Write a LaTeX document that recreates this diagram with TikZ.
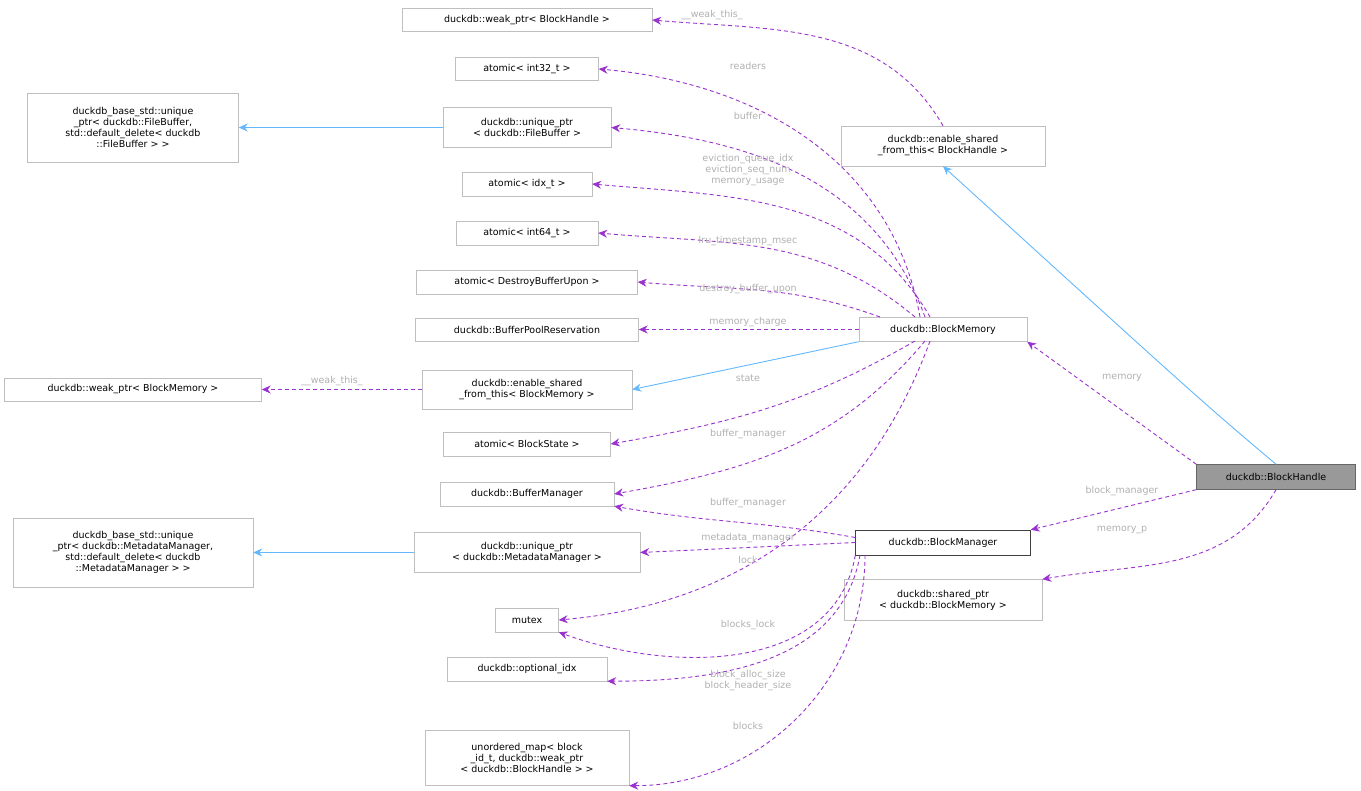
\documentclass[tikz,border=0pt]{standalone}
\usepackage{fontspec}
\setmainfont{DejaVu Sans}
\usetikzlibrary{arrows.meta}
\definecolor{usecol}{HTML}{9A32CD}
\definecolor{inhcol}{HTML}{63B8FF}
\definecolor{lblcol}{HTML}{B0B0B0}
\definecolor{boxcol}{HTML}{BFBFBF}
\tikzset{
  cls/.style={draw=boxcol, fill=white, inner sep=2pt, font=\fontsize{9.5}{11}\selectfont, align=center},
  use/.style={draw=usecol, line width=0.9pt, dash pattern=on 4pt off 3pt, -{Stealth[length=9pt,width=8pt]}},
  inh/.style={draw=inhcol, line width=0.9pt, -{Stealth[length=9pt,width=8pt]}},
  lbl/.style={text=lblcol, font=\fontsize{9.5}{11}\selectfont, align=center, inner sep=0pt}
}
\begin{document}
\begin{tikzpicture}[x=1pt,y=-1pt]
\useasboundingbox (0,0) rectangle (1361,791);
% classes
\node[cls, minimum width=250, minimum height=23] (weakBH) at (527,20) {duckdb::weak\_ptr< BlockHandle >};
\node[cls, minimum width=143, minimum height=23] (int32) at (527,69) {atomic< int32\_t >};
\node[cls, minimum width=168, minimum height=40] (uniqFB) at (527,127.5) {duckdb::unique\_ptr\\< duckdb::FileBuffer >};
\node[cls, minimum width=211, minimum height=69] (baseFB) at (133,127.5) {duckdb\_base\_std::unique\\\_ptr< duckdb::FileBuffer,\\ std::default\_delete< duckdb\\::FileBuffer > >};
\node[cls, minimum width=130, minimum height=24] (idx) at (527,184) {atomic< idx\_t >};
\node[cls, minimum width=142, minimum height=24] (int64) at (527,233) {atomic< int64\_t >};
\node[cls, minimum width=221, minimum height=24] (destroy) at (527,282) {atomic< DestroyBufferUpon >};
\node[cls, minimum width=223, minimum height=23] (bpr) at (527,329.5) {duckdb::BufferPoolReservation};
\node[cls, minimum width=210, minimum height=39] (esfBM) at (527,389.5) {duckdb::enable\_shared\\\_from\_this< BlockMemory >};
\node[cls, minimum width=257, minimum height=23] (weakBM) at (133,389.5) {duckdb::weak\_ptr< BlockMemory >};
\node[cls, minimum width=167, minimum height=24] (state) at (527,444) {atomic< BlockState >};
\node[cls, minimum width=174, minimum height=24] (bufman) at (527,494) {duckdb::BufferManager};
\node[cls, minimum width=226, minimum height=40] (uniqMM) at (527,552.5) {duckdb::unique\_ptr\\< duckdb::MetadataManager >};
\node[cls, minimum width=240, minimum height=69] (baseMM) at (133,552.5) {duckdb\_base\_std::unique\\\_ptr< duckdb::MetadataManager,\\ std::default\_delete< duckdb\\::MetadataManager > >};
\node[cls, minimum width=63, minimum height=24] (mutex) at (527,620) {mutex};
\node[cls, minimum width=160, minimum height=24] (optidx) at (527,669) {duckdb::optional\_idx};
\node[cls, minimum width=204, minimum height=55] (umap) at (527,758) {unordered\_map< block\\\_id\_t, duckdb::weak\_ptr\\< duckdb::BlockHandle > >};
\node[cls, minimum width=204, minimum height=40] (esfBH) at (943,146) {duckdb::enable\_shared\\\_from\_this< BlockHandle >};
\node[cls, minimum width=168, minimum height=24] (blkmem) at (943,329.5) {duckdb::BlockMemory};
\node[cls, draw=black!75, minimum width=175, minimum height=25] (blkmgr) at (943,542.5) {duckdb::BlockManager};
\node[cls, minimum width=198, minimum height=41] (sharedBM) at (943,600) {duckdb::shared\_ptr\\< duckdb::BlockMemory >};
\node[cls, draw=black!60, fill=black!40, minimum width=159, minimum height=25] (blkhdl) at (1276,477) {duckdb::BlockHandle};
% inheritance
\draw[inh] (uniqFB.west) -- (baseFB.east);
\draw[inh] (uniqMM.west) -- (baseMM.east);
\draw[inh] (blkmem.south west) -- (esfBM.east);
\draw[inh] (blkhdl.north) .. controls (1200,400) .. (esfBH.south);
% members of BlockHandle
\draw[use] (esfBH.north) to[out=120,in=-5] (weakBH.east);
\draw[use] (blkhdl.north west) -- (blkmem.south east);
\draw[use] (blkhdl.south west) -- (blkmgr.north east);
\draw[use] (blkhdl.south) to[out=-120,in=10] (sharedBM.north east);
% members of BlockMemory
\draw[use] (920,317) to[out=100,in=-5] (int32.east);
\draw[use] (925,317) to[out=110,in=-5] (uniqFB.east);
\draw[use] (930,317) to[out=120,in=-5] (idx.east);
\draw[use] (915,317) to[out=140,in=-5] (int64.east);
\draw[use] (880,317) to[out=160,in=-5] (destroy.east);
\draw[use] (blkmem.west) -- (bpr.east);
\draw[use] (915,341) to[out=-150,in=10] (state.east);
\draw[use] (925,341) to[out=-130,in=10] (bufman.east);
\draw[use] (930,341) to[out=-110,in=5] (mutex.east);
\draw[use] (esfBM.west) -- (weakBM.east);
% members of BlockManager
\draw[use] (blkmgr.west) ++(0,-5) to[out=170,in=-10] (bufman.south east);
\draw[use] (blkmgr.west) -- (uniqMM.east);
\draw[use] (blkmgr.south west) to[out=-100,in=-20] (mutex.south east);
\draw[use] (860,555) to[out=-100,in=0] (optidx.south east);
\draw[use] (865,555) to[out=-90,in=0] (umap.south east);
% labels
\node[lbl] (l1) at (712,15) {\_\_weak\_this\_};
\node[lbl] (l2) at (748,66) {readers};
\node[lbl] (l3) at (748,116) {buffer};
\node[lbl] (l4) at (748,170) {eviction\_queue\_idx\\eviction\_seq\_num\\memory\_usage};
\node[lbl] (l5) at (748,241) {lru\_timestamp\_msec};
\node[lbl] (l6) at (748,289) {destroy\_buffer\_upon};
\node[lbl] (l7) at (748,322) {memory\_charge};
\node[lbl] (l8) at (748,378) {state};
\node[lbl] (l9) at (748,434) {buffer\_manager};
\node[lbl] (l10) at (748,503) {buffer\_manager};
\node[lbl] (l11) at (748,538) {metadata\_manager};
\node[lbl] (l12) at (748,560) {lock};
\node[lbl] (l13) at (748,625) {blocks\_lock};
\node[lbl] (l14) at (748,681) {block\_alloc\_size\\block\_header\_size};
\node[lbl] (l15) at (748,726) {blocks};
\node[lbl] (l16) at (332,381) {\_\_weak\_this\_};
\node[lbl] (l17) at (1122,378) {memory};
\node[lbl] (l18) at (1122,491) {block\_manager};
\node[lbl] (l19) at (1122,530) {memory\_p};
\end{tikzpicture}
\end{document}
